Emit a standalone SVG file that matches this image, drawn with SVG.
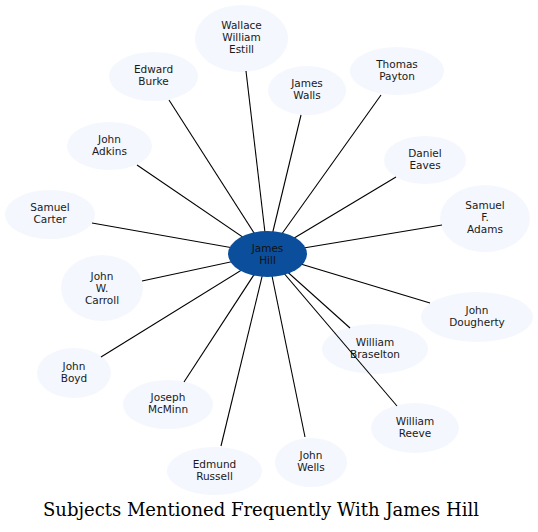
<svg xmlns="http://www.w3.org/2000/svg" width="538" height="532" viewBox="0 0 538 532">
<style>
.n ellipse{fill:#f4f7fd;stroke:none}
.n text,.hub text{font-family:"DejaVu Sans",sans-serif;font-size:10.5px;text-anchor:middle;fill:#1a1a1a}
.hub ellipse{fill:#0b4f9c;stroke:none}
.hub text{fill:#111}
#edges line{stroke:#000;stroke-width:1.1}
.title{font-family:"DejaVu Serif",serif;font-size:18px;text-anchor:middle;fill:#000}
</style>
<rect width="538" height="532" fill="#fff"/>
<g id="wallace" class="n"><ellipse cx="241.5" cy="38.5" rx="46.5" ry="33.5"/><text x="241.5" y="29">Wallace</text><text x="241.5" y="41">William</text><text x="241.5" y="53">Estill</text></g>
<g id="edward" class="n"><ellipse cx="153.5" cy="76.5" rx="44.5" ry="24.5"/><text x="153.5" y="73">Edward</text><text x="153.5" y="85">Burke</text></g>
<g id="walls" class="n"><ellipse cx="307" cy="90.5" rx="39" ry="24.5"/><text x="307" y="87">James</text><text x="307" y="99">Walls</text></g>
<g id="payton" class="n"><ellipse cx="397" cy="71" rx="47" ry="24"/><text x="397" y="67.5">Thomas</text><text x="397" y="79.5">Payton</text></g>
<g id="adkins" class="n"><ellipse cx="109.5" cy="146" rx="42.5" ry="24"/><text x="109.5" y="142.5">John</text><text x="109.5" y="154.5">Adkins</text></g>
<g id="eaves" class="n"><ellipse cx="425" cy="160" rx="41" ry="24"/><text x="425" y="156.5">Daniel</text><text x="425" y="168.5">Eaves</text></g>
<g id="carter" class="n"><ellipse cx="50" cy="214.5" rx="45" ry="24.5"/><text x="50" y="211">Samuel</text><text x="50" y="223">Carter</text></g>
<g id="adams" class="n"><ellipse cx="485" cy="218.5" rx="45" ry="33.5"/><text x="485" y="209">Samuel</text><text x="485" y="221">F.</text><text x="485" y="233">Adams</text></g>
<g id="carroll" class="n"><ellipse cx="102" cy="288" rx="41" ry="33"/><text x="102" y="279.5">John</text><text x="102" y="291.5">W.</text><text x="102" y="303.5">Carroll</text></g>
<g id="dougherty" class="n"><ellipse cx="477" cy="317" rx="56" ry="25"/><text x="477" y="313.5">John</text><text x="477" y="325.5">Dougherty</text></g>
<g id="braselton" class="n"><ellipse cx="375" cy="349" rx="53" ry="25"/><text x="375" y="345.5">William</text><text x="375" y="357.5">Braselton</text></g>
<g id="reeve" class="n"><ellipse cx="415" cy="428" rx="44" ry="25"/><text x="415" y="424.5">William</text><text x="415" y="436.5">Reeve</text></g>
<g id="boyd" class="n"><ellipse cx="74" cy="373" rx="37" ry="25"/><text x="74" y="369.5">John</text><text x="74" y="381.5">Boyd</text></g>
<g id="mcminn" class="n"><ellipse cx="168" cy="404.5" rx="45" ry="24.5"/><text x="168" y="401">Joseph</text><text x="168" y="413">McMinn</text></g>
<g id="russell" class="n"><ellipse cx="214.5" cy="471" rx="47.5" ry="24"/><text x="214.5" y="467.5">Edmund</text><text x="214.5" y="479.5">Russell</text></g>
<g id="wells" class="n"><ellipse cx="311" cy="462.5" rx="36" ry="24.5"/><text x="311" y="459">John</text><text x="311" y="471">Wells</text></g>
<g id="edges">
<line x1="267.5" y1="254" x2="246" y2="71"/>
<line x1="267.5" y1="254" x2="169" y2="100"/>
<line x1="267.5" y1="254" x2="301" y2="115"/>
<line x1="267.5" y1="254" x2="381" y2="95"/>
<line x1="267.5" y1="254" x2="137" y2="165"/>
<line x1="267.5" y1="254" x2="396" y2="177"/>
<line x1="267.5" y1="254" x2="92" y2="223"/>
<line x1="267.5" y1="254" x2="442" y2="225"/>
<line x1="267.5" y1="254" x2="142" y2="281"/>
<line x1="267.5" y1="254" x2="430" y2="303"/>
<line x1="267.5" y1="254" x2="350" y2="328"/>
<line x1="267.5" y1="254" x2="397" y2="406"/>
<line x1="267.5" y1="254" x2="101" y2="357"/>
<line x1="267.5" y1="254" x2="184" y2="382"/>
<line x1="267.5" y1="254" x2="221" y2="446"/>
<line x1="267.5" y1="254" x2="305" y2="437"/>
</g>
<g id="james-hill" class="hub"><ellipse cx="267.5" cy="254" rx="39.5" ry="23"/><text x="267.5" y="252">James</text><text x="267.5" y="263.5">Hill</text></g>
<text class="title" x="261" y="516">Subjects Mentioned Frequently With James Hill</text>
</svg>
